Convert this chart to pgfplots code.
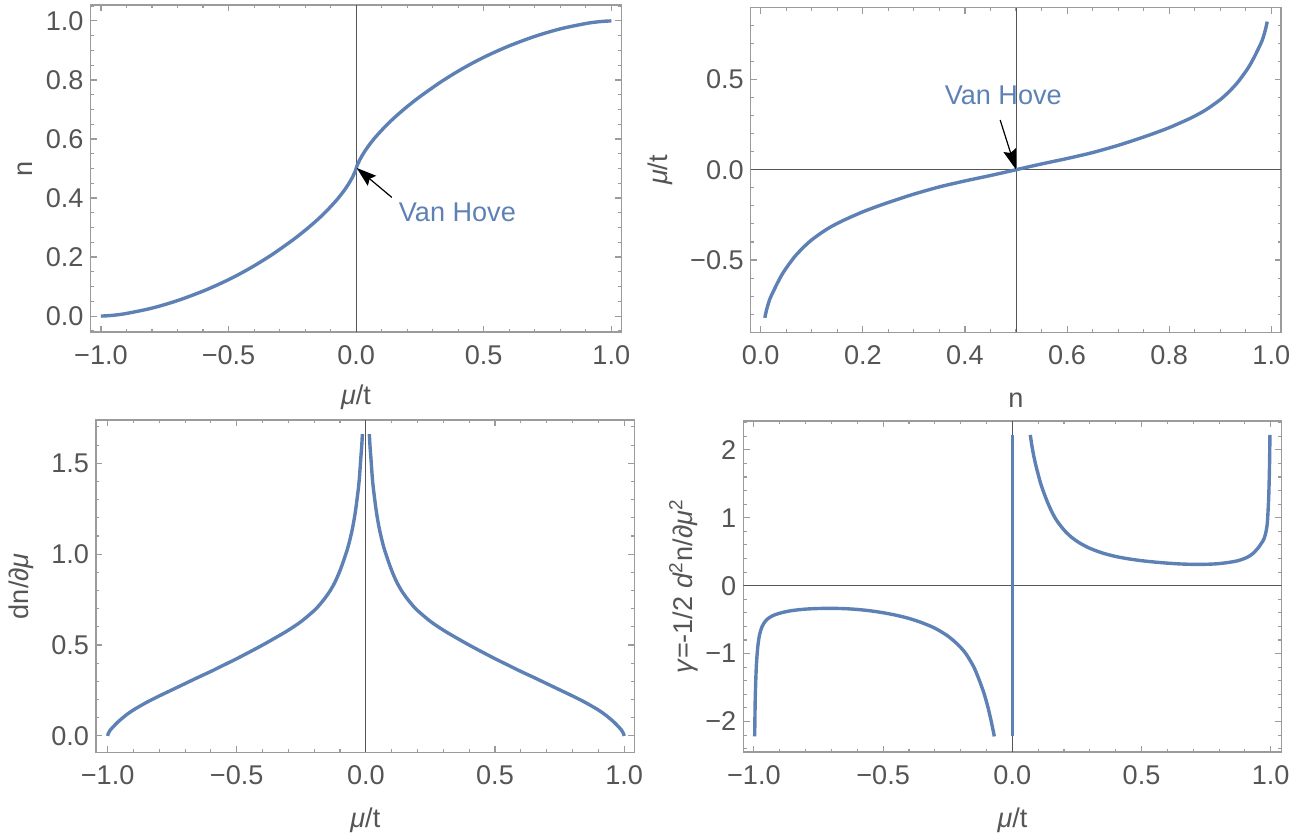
\documentclass[border=0pt]{standalone}
\usepackage{fontspec}
\setmainfont{Liberation Sans}
\usepackage{pgfplots}
\pgfplotsset{compat=1.18}
\usetikzlibrary{arrows.meta}

\definecolor{curve}{RGB}{94,129,181}
\definecolor{frm}{RGB}{155,155,155}
\definecolor{lbl}{RGB}{85,85,85}
\definecolor{orig}{RGB}{85,85,85}

\newcommand{\mfont}{\fontsize{13.6}{16}\selectfont}

\pgfplotsset{
  mma/.style={
    scale only axis,
    axis line style={frm, line width=0.55bp},
    tick style={frm, line width=0.55bp},
    tick align=inside,
    tick pos=both,
    major tick length=3.2bp,
    minor tick length=1.7bp,
    ticklabel style={font=\mfont, text=lbl, inner sep=0pt},
    xticklabel style={anchor=north, yshift=-6.5bp},
    yticklabel style={anchor=east, xshift=-3.3bp},
    label style={font=\mfont, text=lbl},
    xlabel style={at={(axis description cs:0.5,0)}, anchor=center, yshift=-33bp},
  },
  blue curve/.style={curve, line width=1.7bp, no marks},
}

\begin{document}
\begin{tikzpicture}
\path (0,0) rectangle (653.5bp,418bp);

% top left: n(mu)
\begin{axis}[mma, at={(45.25bp,252bp)}, anchor=south west,
  width=265.5bp, height=163.5bp,
  xmin=-1.041, xmax=1.040, ymin=-0.054, ymax=1.054,
  xtick={-1,-0.5,0,0.5,1}, xticklabels={−1.0,−0.5,0.0,0.5,1.0},
  ytick={0,0.2,0.4,0.6,0.8,1}, yticklabels={0.0,0.2,0.4,0.6,0.8,1.0},
  minor xtick={-1,-0.9,...,1}, minor ytick={-0.05,0,...,1.05},
  xlabel={\textit{μ}/t}, ylabel={n},
  ylabel style={at={(axis description cs:-0.1234,0.5)}, anchor=center},
  xlabel style={yshift=0.5bp}]
\draw[orig, line width=0.5bp] (axis cs:0,-0.054) -- (axis cs:0,1.054);
\addplot[blue curve, smooth] coordinates {
(-1.000,0.0000) (-0.978,0.0008) (-0.946,0.0032) (-0.900,0.0088) (-0.800,0.0269)
(-0.700,0.0524) (-0.600,0.0845) (-0.520,0.1150) (-0.460,0.1410) (-0.400,0.1701)
(-0.330,0.2079) (-0.250,0.2566) (-0.200,0.2904) (-0.160,0.3199) (-0.120,0.3524)
(-0.075,0.3945) (-0.045,0.4277) (-0.029,0.4484) (-0.019,0.4632) (-0.0135,0.4720)
(-0.005,0.4878) (-0.002,0.4944) (0.000,0.5000)
(0.002,0.5056) (0.005,0.5122) (0.0135,0.5280) (0.019,0.5368) (0.029,0.5516)
(0.045,0.5723) (0.075,0.6055) (0.120,0.6476) (0.160,0.6801) (0.200,0.7096)
(0.250,0.7434) (0.330,0.7921) (0.400,0.8299) (0.460,0.8590) (0.520,0.8850)
(0.600,0.9155) (0.700,0.9476) (0.800,0.9731) (0.900,0.9912) (0.946,0.9968)
(0.978,0.9992) (1.000,1.0000)};
\draw[black, line width=0.6bp, -{Stealth[length=10bp, width=6.5bp, inset=1.5bp]}]
  (axis cs:0.14,0.402) -- (axis cs:0.002,0.502);
\node[anchor=west, inner sep=0pt, text=curve, font=\mfont] at (axis cs:0.166,0.35) {Van Hove};
\end{axis}

% top right: mu(n)
\begin{axis}[mma, at={(375.35bp,251.85bp)}, anchor=south west,
  width=265.15bp, height=162.3bp,
  xmin=-0.0196, xmax=1.019, ymin=-0.90, ymax=0.897,
  xtick={0,0.2,0.4,0.6,0.8,1}, xticklabels={0.0,0.2,0.4,0.6,0.8,1.0},
  ytick={-0.5,0,0.5}, yticklabels={−0.5,0.0,0.5},
  minor xtick={0,0.05,...,1}, minor ytick={-0.8,-0.7,...,0.85},
  xlabel={n}, ylabel={\textit{μ}/t},
  ylabel style={at={(axis description cs:-0.1697,0.5)}, anchor=center},
  xlabel style={yshift=-1bp}]
\draw[orig, line width=0.5bp] (axis cs:0.5,-0.9) -- (axis cs:0.5,0.897);
\draw[orig, line width=0.5bp] (axis cs:-0.0196,0) -- (axis cs:1.019,0);
\addplot[blue curve, smooth] coordinates {
(0.008,-0.820) (0.012,-0.770) (0.018,-0.715) (0.025,-0.672) (0.035,-0.615)
(0.045,-0.565) (0.060,-0.505) (0.070,-0.470) (0.085,-0.426) (0.100,-0.388)
(0.120,-0.347) (0.135,-0.320) (0.160,-0.283) (0.200,-0.233) (0.235,-0.196)
(0.265,-0.167) (0.300,-0.135) (0.350,-0.095) (0.400,-0.062) (0.420,-0.050)
(0.450,-0.032) (0.480,-0.013) (0.500,0.000) (0.520,0.013) (0.550,0.032)
(0.580,0.050) (0.600,0.062) (0.650,0.095) (0.700,0.135) (0.735,0.167)
(0.765,0.196) (0.800,0.233) (0.840,0.283) (0.865,0.320) (0.880,0.347)
(0.900,0.388) (0.915,0.426) (0.930,0.470) (0.940,0.505) (0.955,0.565)
(0.965,0.615) (0.975,0.672) (0.982,0.715) (0.988,0.770) (0.992,0.820)};
\draw[black, line width=0.6bp, -{Stealth[length=10bp, width=6.5bp, inset=1.5bp]}]
  (axis cs:0.469,0.275) -- (axis cs:0.4995,0.003);
\node[inner sep=0pt, text=curve, font=\mfont] at (axis cs:0.475,0.414) {Van Hove};
\end{axis}

% bottom left: dn/dmu
\begin{axis}[mma, at={(48bp,41.85bp)}, anchor=south west,
  width=269.35bp, height=166.15bp,
  xmin=-1.045, xmax=1.041, ymin=-0.09, ymax=1.738,
  xtick={-1,-0.5,0,0.5,1}, xticklabels={−1.0,−0.5,0.0,0.5,1.0},
  ytick={0,0.5,1,1.5}, yticklabels={0.0,0.5,1.0,1.5},
  minor xtick={-1,-0.9,...,1}, minor ytick={0,0.1,...,1.7},
  xlabel={\textit{μ}/t}, ylabel={dn/∂\textit{μ}},
  ylabel style={at={(axis description cs:-0.1392,0.5)}, anchor=center},
  xlabel style={yshift=-1bp}]
\draw[orig, line width=0.5bp] (axis cs:0,-0.09) -- (axis cs:0,1.738);
\addplot[blue curve, smooth] coordinates {
(-1.000,0.000) (-0.997,0.015) (-0.990,0.032) (-0.980,0.048) (-0.960,0.077)
(-0.930,0.113) (-0.900,0.143) (-0.850,0.184) (-0.800,0.220) (-0.750,0.254)
(-0.700,0.288) (-0.650,0.322) (-0.600,0.355) (-0.550,0.390) (-0.500,0.425)
(-0.450,0.462) (-0.400,0.500) (-0.350,0.540) (-0.300,0.582) (-0.250,0.630)
(-0.200,0.690) (-0.180,0.720) (-0.160,0.755) (-0.140,0.795) (-0.120,0.845)
(-0.100,0.910) (-0.080,0.990) (-0.070,1.035) (-0.060,1.090) (-0.050,1.155)
(-0.040,1.240) (-0.030,1.350) (-0.025,1.420) (-0.020,1.520) (-0.016,1.595)
(-0.0135,1.660)};
\addplot[blue curve, smooth] coordinates {
(0.0135,1.660) (0.016,1.595) (0.020,1.520) (0.025,1.420) (0.030,1.350)
(0.040,1.240) (0.050,1.155) (0.060,1.090) (0.070,1.035) (0.080,0.990)
(0.100,0.910) (0.120,0.845) (0.140,0.795) (0.160,0.755) (0.180,0.720)
(0.200,0.690) (0.250,0.630) (0.300,0.582) (0.350,0.540) (0.400,0.500)
(0.450,0.462) (0.500,0.425) (0.550,0.390) (0.600,0.355) (0.650,0.322)
(0.700,0.288) (0.750,0.254) (0.800,0.220) (0.850,0.184) (0.900,0.143)
(0.930,0.113) (0.960,0.077) (0.980,0.048) (0.990,0.032) (0.997,0.015)
(1.000,0.000)};
\end{axis}

% bottom right: gamma
\begin{axis}[mma, at={(371.65bp,42bp)}, anchor=south west,
  width=269.2bp, height=165.5bp,
  xmin=-1.041, xmax=1.0425, ymin=-2.449, ymax=2.425,
  xtick={-1,-0.5,0,0.5,1}, xticklabels={−1.0,−0.5,0.0,0.5,1.0},
  ytick={-2,-1,0,1,2}, yticklabels={−2,−1,0,1,2},
  minor xtick={-1,-0.9,...,1}, minor ytick={-2.4,-2.2,...,2.4},
  xlabel={\textit{μ}/t},
  ylabel={\textit{γ}=-1/2 \textit{d}\textsuperscript{2}n/∂\textit{μ}\textsuperscript{2}},
  ylabel style={at={(axis description cs:-0.1105,0.5)}, anchor=center},
  xlabel style={yshift=-1bp}]
\draw[orig, line width=0.5bp] (axis cs:0,-2.449) -- (axis cs:0,2.425);
\draw[orig, line width=0.5bp] (axis cs:-1.041,0) -- (axis cs:1.0425,0);
\addplot[blue curve, smooth] coordinates {
(-0.997,-2.22) (-0.996,-1.95) (-0.995,-1.70) (-0.993,-1.42) (-0.990,-1.15)
(-0.985,-0.90) (-0.978,-0.72) (-0.968,-0.60) (-0.955,-0.52) (-0.940,-0.47)
(-0.920,-0.43) (-0.890,-0.395) (-0.850,-0.365) (-0.800,-0.345) (-0.750,-0.336)
(-0.700,-0.334) (-0.650,-0.338) (-0.600,-0.350) (-0.550,-0.370) (-0.500,-0.398)
(-0.450,-0.435) (-0.400,-0.482) (-0.350,-0.545) (-0.300,-0.625) (-0.250,-0.740)
(-0.210,-0.870) (-0.180,-1.000) (-0.150,-1.190) (-0.130,-1.370) (-0.110,-1.580)
(-0.095,-1.780) (-0.082,-1.990) (-0.0696,-2.22)};
\addplot[blue curve] coordinates {(0,-2.22) (0,2.22)};
\addplot[blue curve, smooth] coordinates {
(0.0696,2.22) (0.075,2.08) (0.082,1.93) (0.090,1.79) (0.100,1.64)
(0.110,1.50) (0.120,1.39) (0.135,1.24) (0.150,1.11) (0.170,0.97)
(0.200,0.82) (0.230,0.71) (0.260,0.63) (0.300,0.55) (0.350,0.48)
(0.400,0.43) (0.450,0.395) (0.500,0.368) (0.550,0.348) (0.600,0.332)
(0.650,0.320) (0.700,0.314) (0.750,0.315) (0.800,0.325) (0.850,0.350)
(0.880,0.375) (0.910,0.420) (0.930,0.470) (0.950,0.550) (0.965,0.630)
(0.975,0.700) (0.982,0.800) (0.987,0.930) (0.991,1.20) (0.993,1.40)
(0.995,1.70) (0.996,1.95) (0.997,2.22)};
\end{axis}
\end{tikzpicture}
\end{document}
